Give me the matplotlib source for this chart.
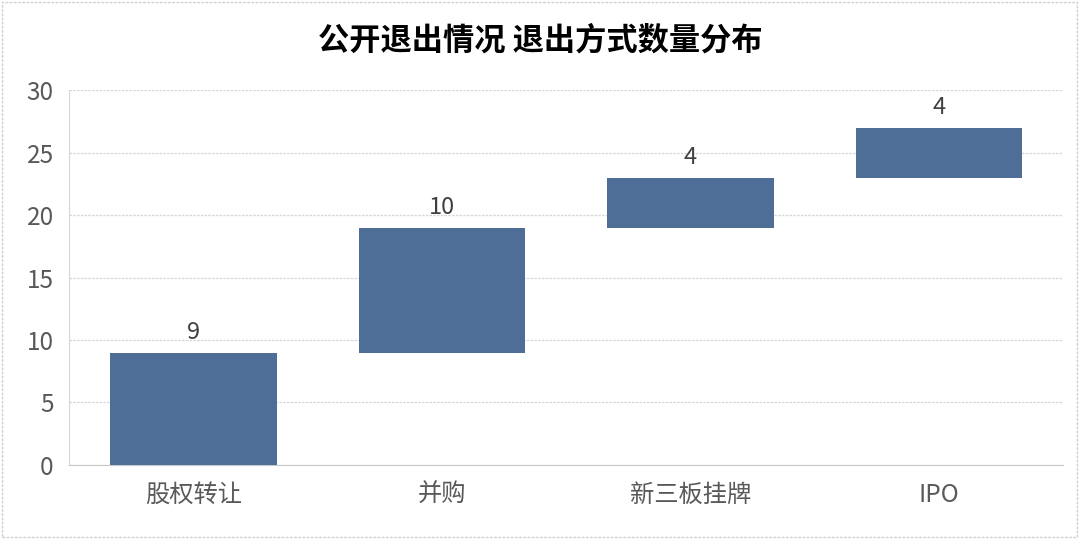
import matplotlib
matplotlib.use("Agg")
import matplotlib.pyplot as plt
from matplotlib.patches import Rectangle

plt.rcParams['font.family'] = ['Noto Sans CJK SC', 'DejaVu Sans']

categories = ['股权转让', '并购', '新三板挂牌', 'IPO']
values = [9, 10, 4, 4]
title = '公开退出情况 退出方式数量分布'

# waterfall bases: each bar starts where the previous one ended
bases = []
running = 0
for v in values:
    bases.append(running)
    running += v

fig = plt.figure(figsize=(10.8, 5.39), dpi=100)
ax = fig.add_axes([0.0639, 0.1373, 0.9204, 0.6957])

x = list(range(len(categories)))
bars = ax.bar(x, values, bottom=bases, width=0.67, color='#4E6E98', zorder=3)

for xi, b, v in zip(x, bases, values):
    ax.annotate(str(v), (xi, b + v), xytext=(0, 6), textcoords='offset points',
                ha='center', va='bottom', fontsize=17, color='#404040', zorder=4)

ax.set_xlim(-0.5, len(categories) - 0.5)
ax.set_ylim(0, 30)
ax.set_yticks(range(0, 31, 5))
ax.set_xticks(x)
ax.set_xticklabels(categories)
ax.tick_params(axis='both', length=0, labelsize=17.5, labelcolor='#595959')
ax.tick_params(axis='x', pad=12)
ax.tick_params(axis='y', pad=11)

ax.yaxis.grid(True, color='#D6D6D6', linestyle=(0, (2, 1)), linewidth=0.9, zorder=0)
ax.set_axisbelow(True)
for side in ['top', 'right']:
    ax.spines[side].set_visible(False)
ax.spines['left'].set_color('#D6D6D6')
ax.spines['left'].set_linestyle((0, (2, 1)))
ax.spines['bottom'].set_color('#C8C8C8')

fig.text(0.5, 0.925, title, ha='center', va='center', fontsize=22.5,
         fontweight='bold', color='#000000')

fig.patches.append(Rectangle((0.002, 0.004), 0.995, 0.992, transform=fig.transFigure,
                             fill=False, edgecolor='#D0D0D0', linewidth=1,
                             linestyle=(0, (2, 1))))

fig.savefig('out.png', dpi=100, facecolor='white')
